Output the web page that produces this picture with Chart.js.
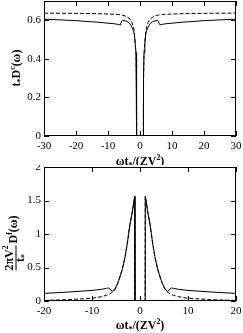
<!DOCTYPE html>
<html>
<head>
<meta charset="utf-8">
<script src="https://cdn.jsdelivr.net/npm/chart.js@4.4.0/dist/chart.umd.min.js"></script>
<style>
  html, body { margin: 0; padding: 0; background: #fff; }
  .panel { width: 243px; }
  canvas { display: block; }
</style>
</head>
<body>
<div class="panel" style="height:165px"><canvas id="upper" width="243" height="165"></canvas></div>
<div class="panel" style="height:168px"><canvas id="lower" width="243" height="168"></canvas></div>
<script>
// upper panel: t* D^c(w) against w t*/(ZV^2)
const upperX = [-30, -20, -12.5, -8, -7, -6.25, -6, -5.7, -5.4, -5, -4.4, -3.8, -3.1, -2.6, -2.1, -1.8, -1.5, -1.25, -1.12, -1.06, -1.03,
  0, 1.03, 1.06, 1.12, 1.25, 1.5, 1.8, 2.1, 2.6, 3.1, 3.8, 4.4, 5, 5.4, 5.7, 6, 6.25, 7, 8, 12.5, 20, 30];
const upperSolid = [0.606, 0.598, 0.589, 0.582, 0.579, 0.576, 0.584, 0.596, 0.599, 0.598, 0.596, 0.592, 0.582, 0.565, 0.548, 0.53, 0.48, 0.43, 0.3, 0.15, 0,
  0, 0, 0.15, 0.3, 0.43, 0.48, 0.53, 0.548, 0.565, 0.582, 0.592, 0.596, 0.598, 0.599, 0.596, 0.584, 0.576, 0.579, 0.582, 0.589, 0.598, 0.606];
const upperDashed = [0.637, 0.636, 0.634, 0.631, 0.63, 0.629, 0.628, 0.627, 0.626, 0.625, 0.62, 0.614, 0.606, 0.592, 0.568, 0.54, 0.48, 0.43, 0.3, 0.15, 0,
  0, 0, 0.15, 0.3, 0.43, 0.48, 0.54, 0.568, 0.592, 0.606, 0.614, 0.62, 0.625, 0.626, 0.627, 0.628, 0.629, 0.63, 0.631, 0.634, 0.636, 0.637];
const upperXTicks = [-30, -20, -10, 0, 10, 20, 30];
const upperYTicks = [0, 0.2, 0.4, 0.6];

// lower panel: 2piV^2/t* D^f(w)
const lowerX = [-20, -15, -10, -8, -7, -6.6, -6.3, -6, -5.7, -5.4, -5, -4.4, -3.7, -3.1, -2.6, -2.1, -1.6, -1.3, -1.1, -1.05,
  0, 1.05, 1.1, 1.3, 1.6, 2.1, 2.6, 3.1, 3.7, 4.4, 5, 5.4, 5.7, 6, 6.3, 6.6, 7, 8, 10, 15, 20];
const lowerSolid = [0.114, 0.133, 0.158, 0.175, 0.188, 0.195, 0.183, 0.155, 0.148, 0.165, 0.21, 0.31, 0.47, 0.66, 0.88, 1.14, 1.33, 1.48, 1.56, 0,
  0, 0, 1.56, 1.48, 1.33, 1.14, 0.88, 0.66, 0.47, 0.31, 0.21, 0.165, 0.148, 0.155, 0.183, 0.195, 0.188, 0.175, 0.158, 0.133, 0.114];
const lowerDashed = [0.008, 0.02, 0.04, 0.065, 0.085, 0.095, 0.105, 0.12, 0.135, 0.15, 0.2, 0.31, 0.47, 0.66, 0.88, 1.14, 1.33, 1.48, 1.56, 0,
  0, 0, 1.56, 1.48, 1.33, 1.14, 0.88, 0.66, 0.47, 0.31, 0.2, 0.15, 0.135, 0.12, 0.105, 0.095, 0.085, 0.065, 0.04, 0.02, 0.008];
const lowerXTicks = [-20, -10, 0, 10, 20];
const lowerYTicks = [0, 0.5, 1, 1.5, 2];

const SERIF = '"Liberation Serif", "DejaVu Serif", serif';

function pts(xs, ys) {
  return xs.map((x, i) => ({ x: x, y: ys[i] }));
}

// text with super/subscripts, runs = [[text, mode], ...]
function runsWidth(ctx, runs, size) {
  let w = 0;
  runs.forEach(([t, m]) => {
    ctx.font = 'bold ' + (m ? size * 0.65 : size) + 'px ' + SERIF;
    w += ctx.measureText(t).width;
  });
  return w;
}
function drawRuns(ctx, runs, x, y, size) {
  let cx = x;
  runs.forEach(([t, m]) => {
    ctx.font = 'bold ' + (m ? size * 0.65 : size) + 'px ' + SERIF;
    let dy = m === 'sup' ? -size * 0.42 : (m === 'sub' ? size * 0.28 : 0);
    ctx.fillText(t, cx, y + dy);
    cx += ctx.measureText(t).width;
  });
  return cx - x;
}

const xTitleRuns = [['ωt', ''], ['*', 'sub'], ['/(ZV', ''], ['2', 'sup'], [')', '']];

const framePlugin = {
  id: 'frame',
  afterDraw(chart, args, opts) {
    const ctx = chart.ctx, a = chart.chartArea;
    const xs = chart.scales.x, ys = chart.scales.y;
    ctx.save();
    ctx.strokeStyle = '#000';
    ctx.lineWidth = 1;
    ctx.strokeRect(a.left + 0.5, a.top + 0.5, a.right - a.left - 1, a.bottom - a.top - 1);
    ctx.beginPath();
    opts.xTicks.forEach(v => {
      const px = Math.round(xs.getPixelForValue(v)) + 0.5;
      ctx.moveTo(px, a.bottom); ctx.lineTo(px, a.bottom - 5);
      ctx.moveTo(px, a.top); ctx.lineTo(px, a.top + 5);
    });
    opts.yTicks.forEach(v => {
      const py = Math.round(ys.getPixelForValue(v)) + 0.5;
      ctx.moveTo(a.left, py); ctx.lineTo(a.left + 5, py);
      ctx.moveTo(a.right, py); ctx.lineTo(a.right - 5, py);
    });
    ctx.stroke();

    // x title
    ctx.fillStyle = '#000';
    ctx.textBaseline = 'alphabetic';
    ctx.textAlign = 'left';
    const size = 12;
    const w = runsWidth(ctx, xTitleRuns, size);
    drawRuns(ctx, xTitleRuns, (a.left + a.right) / 2 - w / 2, a.bottom + opts.xTitleGap, size);

    // y title, rotated
    ctx.translate(opts.yTitleX, opts.yTitleY);
    ctx.rotate(-Math.PI / 2);
    opts.drawY(ctx, size);
    ctx.restore();
  }
};

function makeChart(id, xs, solid, dashed, cfg) {
  return new Chart(document.getElementById(id), {
    type: 'scatter',
    data: {
      datasets: [
        { data: pts(xs, solid), showLine: true, borderColor: '#000', borderWidth: 1, pointRadius: 0, tension: 0 },
        { data: pts(xs, dashed), showLine: true, borderColor: '#000', borderWidth: 1, borderDash: [4, 2], pointRadius: 0, tension: 0 }
      ]
    },
    options: {
      responsive: false,
      animation: false,
      events: [],
      layout: { padding: { top: cfg.top, left: 0, right: 7, bottom: 0 } },
      plugins: {
        legend: { display: false },
        tooltip: { enabled: false },
        frame: cfg.frame
      },
      scales: {
        x: {
          type: 'linear', min: cfg.xMin, max: cfg.xMax,
          grid: { display: false, drawTicks: false },
          border: { display: false },
          afterBuildTicks: s => { s.ticks = cfg.frame.xTicks.map(v => ({ value: v })); },
          afterFit: s => { s.height = cfg.xHeight; s.paddingLeft = 0; s.paddingRight = 0; },
          ticks: { padding: cfg.xPad, color: '#000', font: { family: SERIF, size: 11 }, callback: v => String(v) }
        },
        y: {
          type: 'linear', min: 0, max: cfg.yMax,
          grid: { display: false, drawTicks: false },
          border: { display: false },
          afterBuildTicks: s => { s.ticks = cfg.frame.yTicks.map(v => ({ value: v })); },
          afterFit: s => { s.width = 44; s.paddingTop = 0; s.paddingBottom = 0; },
          ticks: { padding: 3, color: '#000', font: { family: SERIF, size: 11 }, callback: v => String(v) }
        }
      }
    },
    plugins: [framePlugin]
  });
}

makeChart('upper', upperX, upperSolid, upperDashed, {
  top: 1, xMin: -30, xMax: 30, yMax: 0.7, xHeight: 29, xPad: 4,
  frame: {
    xTicks: upperXTicks, yTicks: upperYTicks, xTitleGap: 29,
    yTitleX: 20, yTitleY: 68,
    drawY: (ctx, size) => {
      const runs = [['t', ''], ['*', 'sub'], ['D', ''], ['c', 'sup'], ['(ω)', '']];
      const w = runsWidth(ctx, runs, size);
      drawRuns(ctx, runs, -w / 2, 0, size);
    }
  }
});

makeChart('lower', lowerX, lowerSolid, lowerDashed, {
  top: 2, xMin: -20, xMax: 20, yMax: 2, xHeight: 32, xPad: 4,
  frame: {
    xTicks: lowerXTicks, yTicks: lowerYTicks, xTitleGap: 28,
    yTitleX: 16, yTitleY: 78,
    drawY: (ctx, size) => {
      const num = [['2πV', ''], ['2', 'sup']];
      const den = [['t', ''], ['*', 'sub']];
      const rest = [['D', ''], ['f', 'sup'], ['(ω)', '']];
      const wn = runsWidth(ctx, num, size), wd = runsWidth(ctx, den, size), wr = runsWidth(ctx, rest, size);
      const wf = Math.max(wn, wd);
      const total = wf + 2 + wr;
      const x0 = -total / 2;
      drawRuns(ctx, num, x0 + (wf - wn) / 2, -3, size);
      drawRuns(ctx, den, x0 + (wf - wd) / 2, 8, size);
      ctx.fillRect(x0, -0.5, wf, 1);
      drawRuns(ctx, rest, x0 + wf + 2, 1, size);
    }
  }
});
</script>
</body>
</html>
